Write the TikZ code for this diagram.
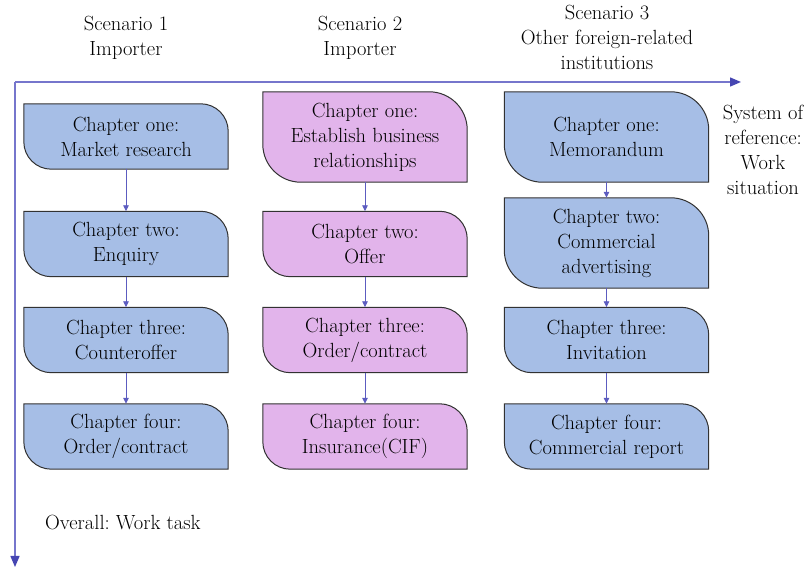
\documentclass[tikz,border=0pt]{standalone}
\usepackage{tikz}
\usetikzlibrary{arrows.meta, positioning, backgrounds, calc}
\frenchspacing
\definecolor{chapblue}{RGB}{166, 190, 230}
\definecolor{chappink}{RGB}{226, 180, 235}
\definecolor{chapborder}{RGB}{50, 50, 50}
\definecolor{linkcolor}{RGB}{92, 92, 192}
\definecolor{axisline}{RGB}{118, 118, 204}
\definecolor{axistip}{RGB}{70, 70, 178}
\tikzstyle{chapter} = [rectangle, minimum width=204pt, minimum height=65pt, inner sep=0pt,
                       align=center, font=\fontsize{20.5}{25}\selectfont]
\tikzstyle{tallchapter} = [chapter, minimum height=90pt]
\tikzstyle{heading} = [align=center, inner sep=0pt, font=\fontsize{20.5}{25}\selectfont]
\tikzstyle{arrow} = [-{Triangle[length=6pt, width=5.5pt]}, line width=0.9pt, linkcolor]
\tikzstyle{axis} = [-{Triangle[length=11pt, width=9pt, color=axistip]}, line width=1.4pt, axisline]

\begin{document}
\begin{tikzpicture}[x=1pt, y=1pt]
    \useasboundingbox (0,0) rectangle (808,572);
    % Scenario headings
    \node[heading] (scenone) at (126,534.5) {Scenario 1\\Importer};
    \node[heading] (scentwo) at (360,534.5) {Scenario 2\\Importer};
    \node[heading] (scenthree) at (607,534.5) {Scenario 3\\Other foreign-related\\institutions};

    % Axes
    \coordinate (origin) at (15,490);
    \coordinate (xend) at (741,490);
    \coordinate (yend) at (15,5);
    \draw[axis] (origin) -- (xend);
    \draw[axis] (origin) -- (yend);
    \node[heading] (sysref) at (763,422.5) {System of\\reference:\\Work\\situation};
    \node[heading, anchor=west] (overall) at (45,49) {Overall: Work task};

    % Scenario 1
    \node[chapter] (research) at (126,435.5) {Chapter one:\\Market research};
    \node[chapter] (enquiry) at (126,328) {Chapter two:\\Enquiry};
    \node[chapter] (counteroffer) at (126,232) {Chapter three:\\Counteroffer};
    \node[chapter] (orderone) at (126,135.5) {Chapter four:\\Order/contract};

    % Scenario 2
    \node[tallchapter] (establish) at (365,435) {Chapter one:\\Establish business\\relationships};
    \node[chapter] (offer) at (365,328) {Chapter two:\\Offer};
    \node[chapter] (ordertwo) at (365,232) {Chapter three:\\Order/contract};
    \node[chapter] (insurance) at (365,135.5) {Chapter four:\\Insurance(CIF)};

    % Scenario 3
    \node[tallchapter] (memo) at (606.5,435) {Chapter one:\\Memorandum};
    \node[tallchapter] (advert) at (606.5,329) {Chapter two:\\Commercial\\advertising};
    \node[chapter] (invitation) at (606.5,232) {Chapter three:\\Invitation};
    \node[chapter] (report) at (606.5,135.5) {Chapter four:\\Commercial report};

    % Box outlines
    \begin{scope}[on background layer]
    \foreach \nm/\fc in {research/chapblue, enquiry/chapblue, counteroffer/chapblue, orderone/chapblue,
                         establish/chappink, offer/chappink, ordertwo/chappink, insurance/chappink,
                         memo/chapblue, advert/chapblue, invitation/chapblue, report/chapblue}
        \draw[chapborder, fill=\fc, line width=1pt]
            let \p1=(\nm.north east), \p2=(\nm.south west), \n1={0.42*(\y1-\y2)} in
            (\x2,\y1) -- (\x1-\n1,\y1) arc[start angle=90, end angle=0, radius=\n1]
            -- (\x1,\y2) -- (\x2+\n1,\y2) arc[start angle=270, end angle=180, radius=\n1] -- cycle;
    \end{scope}

    % Transitions
    \draw[arrow] (research) -- (enquiry);
    \draw[arrow] (enquiry) -- (counteroffer);
    \draw[arrow] (counteroffer) -- (orderone);
    \draw[arrow] (establish) -- (offer);
    \draw[arrow] (offer) -- (ordertwo);
    \draw[arrow] (ordertwo) -- (insurance);
    \draw[arrow] (memo) -- (advert);
    \draw[arrow] (advert) -- (invitation);
    \draw[arrow] (invitation) -- (report);
\end{tikzpicture}
\end{document}
